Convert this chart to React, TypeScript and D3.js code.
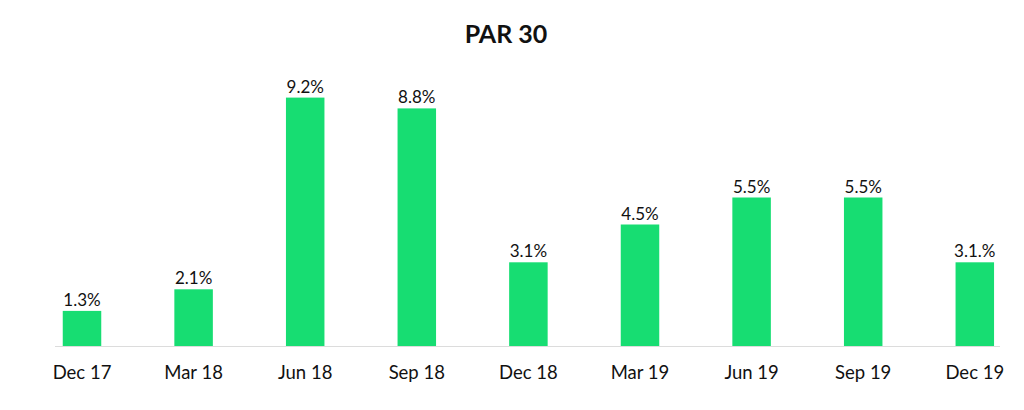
import React, { useRef, useEffect } from "react";
import * as d3 from "d3";

const fontFamily = "Lato, 'Open Sans', sans-serif";
const barColor = "#17dd72";

const quarters = ["Dec 17", "Mar 18", "Jun 18", "Sep 18", "Dec 18", "Mar 19", "Jun 19", "Sep 19", "Dec 19"];
const parValues = [1.3, 2.1, 9.2, 8.8, 3.1, 4.5, 5.5, 5.5, 3.1];
const valueLabels = ["1.3%", "2.1%", "9.2%", "8.8%", "3.1%", "4.5%", "5.5%", "5.5%", "3.1.%"];

export default function App() {
  const ref = useRef<SVGSVGElement>(null);
  const width = 1024;
  const height = 410;

  useEffect(() => {
    const svg = d3.select(ref.current);
    svg.selectAll("*").remove();

    const baseY = 346;
    const x = d3.scaleBand<string>()
      .domain(quarters)
      .range([26.2, 1030.6])
      .paddingInner(0.655)
      .paddingOuter(0.3275);
    const y = d3.scaleLinear().domain([0, 9.2]).range([baseY, 97.6]);

    // title
    svg.append("text")
      .attr("x", 506)
      .attr("y", 43)
      .attr("text-anchor", "middle")
      .attr("font-family", fontFamily)
      .attr("font-size", 25)
      .attr("font-weight", "bold")
      .attr("fill", "#111")
      .text("PAR 30");

    // baseline
    svg.append("line")
      .attr("x1", 55)
      .attr("x2", 1000)
      .attr("y1", baseY + 0.5)
      .attr("y2", baseY + 0.5)
      .attr("stroke", "#dcdcdc")
      .attr("stroke-width", 1);

    // bars
    svg.selectAll("rect.bar")
      .data(parValues)
      .join("rect")
      .attr("class", "bar")
      .attr("x", (d, i) => x(quarters[i])!)
      .attr("y", d => y(d))
      .attr("width", x.bandwidth())
      .attr("height", d => baseY - y(d))
      .attr("fill", barColor);

    // value labels
    svg.selectAll("text.value")
      .data(parValues)
      .join("text")
      .attr("class", "value")
      .attr("x", (d, i) => x(quarters[i])! + x.bandwidth() / 2)
      .attr("y", d => y(d) - 5)
      .attr("text-anchor", "middle")
      .attr("font-family", fontFamily)
      .attr("font-size", 17)
      .attr("fill", "#111")
      .text((d, i) => valueLabels[i]);

    // category labels
    svg.selectAll("text.cat")
      .data(quarters)
      .join("text")
      .attr("class", "cat")
      .attr("x", d => x(d)! + x.bandwidth() / 2)
      .attr("y", 379)
      .attr("text-anchor", "middle")
      .attr("font-family", fontFamily)
      .attr("font-size", 18.5)
      .attr("fill", "#111")
      .text(d => d);
  }, []);

  return (
    <svg
      ref={ref}
      width={width}
      height={height}
      style={{ position: "absolute", left: 0, top: 0, background: "#fff" }}
    ></svg>
  );
}
